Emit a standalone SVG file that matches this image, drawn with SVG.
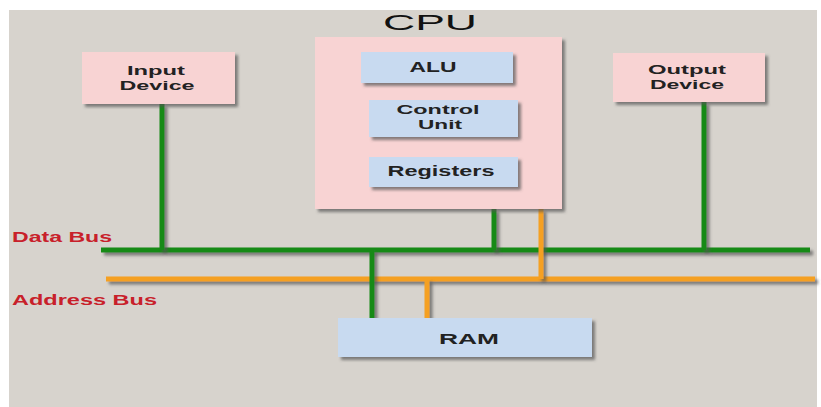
<svg xmlns="http://www.w3.org/2000/svg" width="821" height="407" viewBox="0 0 821 407">
<defs>
<filter id="sh" filterUnits="userSpaceOnUse" x="0" y="0" width="821" height="407">
<feDropShadow dx="3" dy="3" stdDeviation="1.5" flood-color="#555" flood-opacity="0.7"/>
</filter>
<style>
.pink{fill:#f8d3d3;filter:url(#sh)}
.blue{fill:#c8daf0;filter:url(#sh)}
.t{font-family:"Liberation Sans",Arial,sans-serif;font-weight:bold;font-size:15px;fill:#222;text-anchor:middle}
.t2{font-family:"Liberation Sans",Arial,sans-serif;font-weight:bold;font-size:13px;fill:#222;text-anchor:middle}
.lbl{font-family:"Liberation Sans",Arial,sans-serif;font-weight:bold;font-size:14px;fill:#c8202a}
.g{stroke:#188a18;stroke-width:5;fill:none;filter:url(#sh)}
.o{stroke:#f5a020;stroke-width:5;fill:none;filter:url(#sh)}
</style>
</defs>
<rect width="821" height="407" fill="#ffffff"/>
<rect x="9" y="10" width="808" height="397" fill="#d7d3cd"/>
<text x="430" y="30" font-family="'Liberation Sans',Arial,sans-serif" font-size="22" fill="#111" text-anchor="middle" textLength="94" lengthAdjust="spacingAndGlyphs">CPU</text>
<g id="connectors">
<line class="g" x1="101" y1="250" x2="810" y2="250"/>
<line class="o" x1="106" y1="279" x2="815" y2="279"/>
<line class="g" x1="162" y1="104" x2="162" y2="250"/>
<line class="g" x1="704" y1="102" x2="704" y2="250"/>
<line class="g" x1="494" y1="209" x2="494" y2="250"/>
<line class="o" x1="541" y1="209" x2="541" y2="279"/>
<line class="g" x1="372" y1="250" x2="372" y2="318"/>
<line class="o" x1="427" y1="279" x2="427" y2="318"/>
</g>
<g id="input">
<rect class="pink" x="82" y="52" width="153" height="52"/>
<text class="t2" x="156" y="75" textLength="58" lengthAdjust="spacingAndGlyphs">Input</text>
<text class="t2" x="157" y="90" textLength="75" lengthAdjust="spacingAndGlyphs">Device</text>
</g>
<g id="output">
<rect class="pink" x="613" y="53" width="152" height="49"/>
<text class="t2" x="687" y="74" textLength="78" lengthAdjust="spacingAndGlyphs">Output</text>
<text class="t2" x="687" y="89" textLength="74" lengthAdjust="spacingAndGlyphs">Device</text>
</g>
<g id="cpu">
<rect class="pink" x="315" y="37" width="247" height="172"/>
</g>
<g id="alu">
<rect class="blue" x="361" y="52" width="152" height="31"/>
<text class="t" x="433" y="72" textLength="47" lengthAdjust="spacingAndGlyphs">ALU</text>
</g>
<g id="control">
<rect class="blue" x="369" y="100" width="149" height="37"/>
<text class="t2" x="438" y="114" textLength="83" lengthAdjust="spacingAndGlyphs">Control</text>
<text class="t2" x="440" y="129" textLength="44" lengthAdjust="spacingAndGlyphs">Unit</text>
</g>
<g id="registers">
<rect class="blue" x="369" y="157" width="149" height="30"/>
<text class="t" x="441" y="176" textLength="107" lengthAdjust="spacingAndGlyphs">Registers</text>
</g>
<g id="ram">
<rect class="blue" x="338" y="318" width="254" height="39"/>
<text class="t" x="469" y="344" textLength="60" lengthAdjust="spacingAndGlyphs">RAM</text>
</g>
<text class="lbl" x="12" y="242" textLength="100" lengthAdjust="spacingAndGlyphs">Data Bus</text>
<text class="lbl" x="12" y="305" textLength="145" lengthAdjust="spacingAndGlyphs">Address Bus</text>
</svg>
